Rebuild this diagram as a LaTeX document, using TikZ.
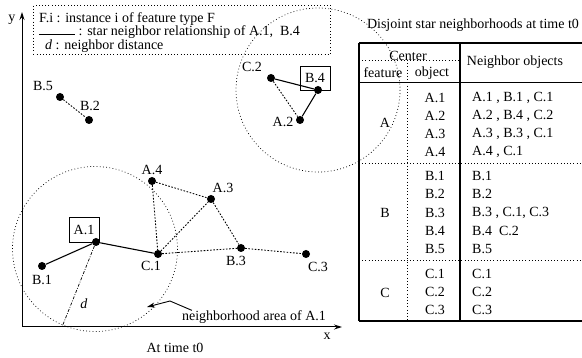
\documentclass[tikz,border=0pt]{standalone}
\usepackage{fontspec}
\setmainfont{Liberation Serif}
\usetikzlibrary{arrows.meta}
\begin{document}
\begin{tikzpicture}[x=1pt, y=-1pt, >={Stealth[length=8pt,width=5pt]},
    font=\fontsize{14}{16}\selectfont,
    obj/.style={circle, fill=black, inner sep=0pt, minimum size=8pt},
    txt/.style={inner sep=0pt},
    star/.style={line width=1.1pt},
    near/.style={line width=0.9pt, dash pattern=on 1.6pt off 1.6pt},
    area/.style={line width=0.7pt, dash pattern=on 0.8pt off 2.4pt},
    rule/.style={line width=1.1pt}]

\useasboundingbox (0,0) rectangle (582,358);

    % axes
    \coordinate (o) at (22,327);
    \coordinate (xend) at (342,327);
    \coordinate (yend) at (22,12);
    \draw[line width=1pt, ->] (o) -- (xend);
    \draw[line width=1pt, ->] (o) -- (yend);
    \node[txt] (ylab) at (12,20) {y};
    \node[txt] (xlab) at (327,336) {x};
    \node[txt] (tlab) at (175,348) {At time t0};

    % legend
    \node[draw, area, anchor=north west, minimum width=297pt, minimum height=49pt] (legend) at (33,5) {};
    \node[txt, anchor=west] (leg1) at (39,19) {F.i : instance i of feature type F};
    \node[txt, anchor=west] (leg2) at (39,32) {\rule[1pt]{36pt}{0.9pt} : star neighbor relationship of A.1,\ \ B.4};
    \node[txt, anchor=west] (leg3) at (45,46) {\textit{d} : neighbor distance};

    % objects
    \node[obj] (b5) at (60,97) {};
    \node[obj] (b2) at (89,120) {};
    \node[obj] (c2) at (271,78) {};
    \node[obj] (b4) at (318,90) {};
    \node[obj] (a2) at (300,120) {};
    \node[obj] (a4) at (152,181) {};
    \node[obj] (a3) at (211,199) {};
    \node[obj] (a1) at (96,242) {};
    \node[obj] (c1) at (158,254) {};
    \node[obj] (b1) at (42,266) {};
    \node[obj] (b3) at (241,248) {};
    \node[obj] (c3) at (306,254) {};

    % labels
    \node[txt] (b5t) at (43,86) {B.5};
    \node[txt] (b2t) at (90,106) {B.2};
    \node[txt] (c2t) at (252,67) {C.2};
    \node[draw, inner sep=0pt, minimum width=30pt, minimum height=24pt, line width=0.7pt] (b4t) at (315,78) {B.4};
    \node[txt] (a2t) at (283,122) {A.2};
    \node[txt] (a4t) at (152,170) {A.4};
    \node[txt] (a3t) at (223,188) {A.3};
    \node[draw, inner sep=0pt, minimum width=30pt, minimum height=25pt, line width=0.7pt] (a1t) at (84,230) {A.1};
    \node[txt] (c1t) at (151,266) {C.1};
    \node[txt] (b1t) at (42,280) {B.1};
    \node[txt] (b3t) at (236,261) {B.3};
    \node[txt] (c3t) at (318,267) {C.3};

    % neighborhood areas
    \coordinate (ca1) at (95,249);
    \coordinate (cb4) at (318,90);
    \draw[area] (ca1) circle (82.5);
    \draw[area] (cb4) circle (82);

    % star neighbor relationships
    \draw[star] (b1) -- (a1);
    \draw[star] (a1) -- (c1);
    \draw[star] (c2) -- (b4);
    \draw[star] (b4) -- (a2);

    % other neighbor relationships
    \draw[near] (b5) -- (b2);
    \draw[near] (c2) -- (a2);
    \draw[near] (a4) -- (a3);
    \draw[near] (a4) -- (c1);
    \draw[near] (c1) -- (a3);
    \draw[near] (a3) -- (b3);
    \draw[near] (c1) -- (b3);
    \draw[near] (b3) -- (c3);

    % neighbor distance
    \coordinate (dfoot) at (62,327);
    \draw[line width=0.7pt, dash pattern=on 3pt off 1.5pt on 0.8pt off 1.5pt] (a1) -- (dfoot);
    \node[txt] (dlab) at (84,304) {\textit{d}};

    % pointer to the area
    \node[txt] (arealab) at (254,317) {neighborhood area of A.1};
    \coordinate (bend) at (170,301);
    \coordinate (tip) at (147,307);
    \draw[line width=0.9pt, ->] ([xshift=10pt]arealab.north west) -- (bend) -- (tip);

    % table
    \node[txt] (title) at (473,25) {Disjoint star neighborhoods at time t0};
    \draw[rule] (359,43) -- (582,43);
    \draw[rule] (359,43) -- (359,321);
    \draw[rule] (359,321) -- (582,321);
    \draw[rule] (460,43) -- (460,321);
    \draw[line width=1pt] (359,83) -- (582,83);
    \draw[area] (359,60) -- (460,60);
    \draw[area] (407,60) -- (407,321);
    \draw[area] (359,163) -- (582,163);
    \draw[area] (359,260) -- (582,260);

    \node[txt] (hcenter) at (408,56) {Center};
    \node[txt] (hfeat) at (383,73) {feature};
    \node[txt] (hobj) at (432,73) {object};
    \node[txt] (hnb) at (515,62) {Neighbor objects};

    \node[txt] (fa) at (385,123) {A};
    \node[txt] (fb) at (385,213) {B};
    \node[txt] (fc) at (385,293) {C};

    \node[txt] (ra1) at (435,98) {A.1};
    \node[txt] (ra2) at (435,116) {A.2};
    \node[txt] (ra3) at (435,134) {A.3};
    \node[txt] (ra4) at (435,152) {A.4};
    \node[txt] (rb1) at (435,176) {B.1};
    \node[txt] (rb2) at (435,194) {B.2};
    \node[txt] (rb3) at (435,213) {B.3};
    \node[txt] (rb4) at (435,231) {B.4};
    \node[txt] (rb5) at (435,249) {B.5};
    \node[txt] (rc1) at (435,274) {C.1};
    \node[txt] (rc2) at (435,292) {C.2};
    \node[txt] (rc3) at (435,310) {C.3};

    \node[txt, anchor=west] (na1) at (472,98) {A.1 , B.1 , C.1};
    \node[txt, anchor=west] (na2) at (472,116) {A.2 , B.4 , C.2};
    \node[txt, anchor=west] (na3) at (472,134) {A.3 , B.3 , C.1};
    \node[txt, anchor=west] (na4) at (472,152) {A.4 , C.1};
    \node[txt, anchor=west] (nb1) at (472,176) {B.1};
    \node[txt, anchor=west] (nb2) at (472,194) {B.2};
    \node[txt, anchor=west] (nb3) at (472,213) {B.3 , C.1, C.3};
    \node[txt, anchor=west] (nb4) at (472,231) {B.4\ \ C.2};
    \node[txt, anchor=west] (nb5) at (472,249) {B.5};
    \node[txt, anchor=west] (nc1) at (472,274) {C.1};
    \node[txt, anchor=west] (nc2) at (472,292) {C.2};
    \node[txt, anchor=west] (nc3) at (472,310) {C.3};

\end{tikzpicture}
\end{document}
